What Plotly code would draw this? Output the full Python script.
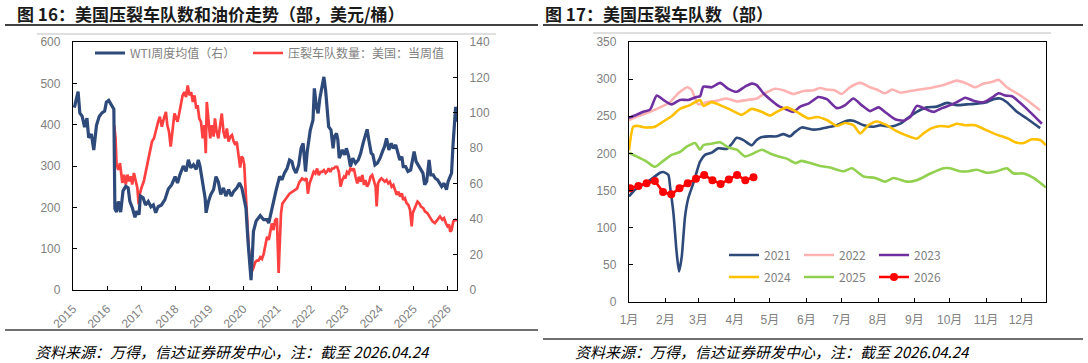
import plotly.graph_objects as go

W, H = 1088, 363

# ---------------- Left chart data (decimal year, value) ----------------
year_ticks = list(range(2015, 2027))

wti_year = [2015.04, 2015.08, 2015.15, 2015.2, 2015.27, 2015.34, 2015.41, 2015.46, 2015.54, 2015.61, 2015.69,
            2015.77, 2015.85, 2015.93, 2015.98, 2016.05, 2016.13, 2016.2, 2016.23, 2016.28, 2016.33, 2016.4,
            2016.47, 2016.55, 2016.62, 2016.67, 2016.75, 2016.82, 2016.87, 2016.94, 2016.98, 2017.06, 2017.13,
            2017.21, 2017.29, 2017.36, 2017.43, 2017.5, 2017.6, 2017.7, 2017.8, 2017.9, 2018.0, 2018.07,
            2018.14, 2018.24, 2018.32, 2018.39, 2018.46, 2018.54, 2018.62, 2018.68, 2018.73, 2018.81, 2018.88,
            2018.91, 2018.98, 2019.05, 2019.13, 2019.2, 2019.27, 2019.34, 2019.42, 2019.49, 2019.57, 2019.65,
            2019.72, 2019.81, 2019.89, 2019.96, 2020.01, 2020.08, 2020.14, 2020.19, 2020.23, 2020.27, 2020.3,
            2020.38, 2020.5, 2020.6, 2020.7, 2020.75, 2020.81, 2020.89, 2020.97, 2021.07, 2021.14, 2021.21,
            2021.29, 2021.36, 2021.43, 2021.48, 2021.55, 2021.63, 2021.7, 2021.76, 2021.83, 2021.88, 2021.97,
            2022.05, 2022.09, 2022.15, 2022.2, 2022.25, 2022.3, 2022.37, 2022.42, 2022.46, 2022.51, 2022.58,
            2022.64, 2022.68, 2022.74, 2022.78, 2022.82, 2022.86, 2022.91, 2022.98, 2023.03, 2023.1, 2023.15,
            2023.22, 2023.3, 2023.38, 2023.45, 2023.52, 2023.57, 2023.64, 2023.69, 2023.76, 2023.81, 2023.87,
            2023.94, 2024.02, 2024.09, 2024.15, 2024.21, 2024.28, 2024.35, 2024.41, 2024.48, 2024.53, 2024.6,
            2024.66, 2024.7, 2024.77, 2024.84, 2024.92, 2024.97, 2025.02, 2025.08, 2025.14, 2025.22, 2025.28,
            2025.33, 2025.39, 2025.46, 2025.51, 2025.58, 2025.64, 2025.71, 2025.77, 2025.83, 2025.9, 2025.97,
            2026.02, 2026.08, 2026.12, 2026.16, 2026.2, 2026.24, 2026.28]
wti_price = [103, 106, 112, 100, 98, 92, 97, 86, 88, 79, 93,
             98, 100, 101, 106, 107, 104, 102, 46, 44, 50, 44,
             56, 58.5, 57.6, 50, 46, 41, 44.5, 42.6, 53, 52, 48,
             50, 47, 48, 43.6, 47, 48, 51, 57, 59.5, 64, 60.4,
             65, 70, 67, 73.5, 69, 70.7, 68, 73.5, 70, 61, 52,
             43.6, 50, 54, 56.7, 64, 61, 54, 57.6, 53, 56.7, 53,
             55.7, 57.6, 60.4, 57.6, 52, 46.4, 27.7, 16.5, 5.6, 20, 33,
             39, 42, 39.7, 39.7, 37.8, 43.4, 49, 56.6, 64.1, 62.2, 66,
             68.7, 73.4, 72.5, 68.7, 66, 70.6, 80, 82.8, 66.9, 78.1, 90.3,
             96, 113.8, 103.4, 99.7, 108.1, 112.8, 120.3, 112.8, 101.6, 92.2, 90.3,
             80, 86.5, 88.4, 84.7, 74.4, 76.3, 79.1, 76.3, 80, 75.3, 69.7,
             74.4, 71.6, 73.4, 77.2, 82.8, 86.5, 90.7, 84.7, 77.2, 76.3, 70.6,
             71.6, 74.4, 78.1, 80.9, 85.6, 79.1, 82.8, 80, 81.9, 78.1, 73.4,
             75.3, 69.7, 69.7, 66.9, 67.8, 72.5, 78.1, 72.5, 70.6, 68.7, 66,
             59.4, 61.3, 73.4, 65, 65, 63.1, 62.2, 60.3, 58.4, 60.3, 56.6,
             61.3, 64.1, 66, 80.9, 92.2, 103.4, 95]

frac_year = [2016.21, 2016.25, 2016.28, 2016.33, 2016.38, 2016.42, 2016.45, 2016.5, 2016.55, 2016.6, 2016.65,
             2016.7, 2016.74, 2016.79, 2016.84, 2016.89, 2016.93, 2016.97, 2017.01, 2017.08, 2017.14, 2017.2,
             2017.26, 2017.32, 2017.38, 2017.44, 2017.5, 2017.55, 2017.61, 2017.67, 2017.73, 2017.77, 2017.82,
             2017.87, 2017.93, 2017.98, 2018.02, 2018.07, 2018.12, 2018.17, 2018.22, 2018.27, 2018.32, 2018.37,
             2018.42, 2018.47, 2018.52, 2018.57, 2018.62, 2018.66, 2018.71, 2018.76, 2018.81, 2018.86, 2018.9,
             2018.93, 2018.98, 2019.03, 2019.08, 2019.13, 2019.17, 2019.22, 2019.27, 2019.32, 2019.37, 2019.42,
             2019.47, 2019.52, 2019.57, 2019.62, 2019.67, 2019.72, 2019.77, 2019.81, 2019.86, 2019.91, 2019.95,
             2019.99, 2020.03, 2020.07, 2020.11, 2020.16, 2020.21, 2020.26, 2020.3, 2020.35, 2020.4, 2020.45,
             2020.5, 2020.55, 2020.6, 2020.65, 2020.7, 2020.75, 2020.79, 2020.84, 2020.89, 2020.94, 2020.99,
             2021.04, 2021.07, 2021.11, 2021.15, 2021.21, 2021.29, 2021.36, 2021.43, 2021.5, 2021.58, 2021.65,
             2021.73, 2021.8, 2021.86, 2021.9, 2021.95, 2022.02, 2022.07, 2022.12, 2022.17, 2022.22, 2022.27,
             2022.32, 2022.37, 2022.42, 2022.46, 2022.51, 2022.56, 2022.61, 2022.66, 2022.71, 2022.76, 2022.81,
             2022.86, 2022.91, 2022.96, 2023.0, 2023.05, 2023.1, 2023.15, 2023.2, 2023.25, 2023.3, 2023.35,
             2023.4, 2023.45, 2023.5, 2023.55, 2023.59, 2023.64, 2023.69, 2023.74, 2023.79, 2023.84, 2023.89,
             2023.92, 2023.96, 2024.01, 2024.06, 2024.11, 2024.16, 2024.21, 2024.26, 2024.31, 2024.36, 2024.41,
             2024.46, 2024.51, 2024.56, 2024.61, 2024.66, 2024.7, 2024.75, 2024.8, 2024.85, 2024.9, 2024.95,
             2024.98, 2025.02, 2025.07, 2025.12, 2025.17, 2025.22, 2025.29, 2025.34, 2025.41, 2025.48, 2025.56,
             2025.63, 2025.71, 2025.78, 2025.85, 2025.9, 2025.95, 2026.0, 2026.05, 2026.08, 2026.12, 2026.17,
             2026.23, 2026.28]
frac_count = [399, 367, 303, 291, 307, 279, 259, 279, 255, 279, 263,
              275, 255, 283, 263, 247, 207, 235, 247, 263, 287, 311,
              335, 359, 367, 391, 407, 419, 395, 415, 431, 399, 383,
              347, 391, 427, 419, 407, 427, 451, 471, 479, 467, 495,
              471, 479, 455, 471, 439, 447, 415, 407, 367, 399, 331,
              455, 407, 367, 399, 371, 415, 383, 367, 403, 427, 383,
              367, 391, 359, 371, 375, 359, 351, 359, 327, 296, 323,
              319, 303, 247, 167, 103, 67, 46, 54, 67, 71, 71,
              79, 75, 87, 107, 129, 121, 141, 161, 145, 169, 173,
              41, 105, 185, 209, 217, 225, 233, 237, 241, 245, 261,
              270, 266, 270, 233, 258, 274, 286, 282, 294, 278, 286,
              286, 290, 283, 286, 294, 286, 294, 294, 298, 298, 286,
              250, 266, 274, 270, 286, 282, 294, 290, 294, 274, 258,
              274, 262, 278, 254, 266, 250, 258, 274, 278, 266, 250,
              202, 258, 266, 270, 266, 262, 266, 258, 262, 250, 254,
              242, 230, 238, 226, 234, 218, 222, 210, 206, 194, 154,
              186, 194, 206, 214, 210, 202, 198, 190, 186, 178, 166,
              162, 170, 178, 170, 174, 162, 154, 158, 141, 145, 166,
              170, 168]

# ---------------- Right chart data (day of year, value) ----------------
month_starts = [0, 31, 59, 90, 120, 151, 181, 212, 243, 273, 304, 334]
month_labels = ["1月", "2月", "3月", "4月", "5月", "6月", "7月", "8月", "9月", "10月", "11月", "12月"]

d2021 = [0, 5.1, 10.8, 17.9, 26.4, 29.2, 33.5, 35, 37.8, 40.6, 42.6, 44.9, 47.7, 50.5, 54.8, 57.6, 60.5, 64.7,
         70.4, 76, 83.2, 87.5, 91.7, 97.4, 104.5, 108.7, 113, 118.7, 125.8, 131.5, 137.1, 141.4, 147, 151.3,
         157, 162.7, 168.4, 176.9, 185.4, 191, 199.8, 208.2, 213.9, 222.3, 230.9, 236.8, 245, 253.5, 262,
         270.6, 279, 287.6, 296, 304.7, 310.3, 316, 321.7, 330.2, 338.7, 350]
v2021 = [142, 151, 157, 164, 174, 175, 171, 155, 120, 66, 41, 61, 115, 140, 160, 175, 189, 198,
         201, 207, 206, 213, 221, 218, 211, 218, 222, 223, 223, 226, 223, 229, 235, 234,
         232, 233, 235, 238, 244, 244, 238, 236, 238, 236, 240, 247, 256, 262, 263,
         268, 265, 266, 267, 269, 273, 274, 269, 256, 247, 234]

d2022 = [0, 9.4, 17.9, 26.4, 34.9, 42, 50, 53.4, 59, 66.2, 74.7, 83.2, 91.7, 100.2, 108.7, 115.8, 124.4, 131.5,
         140, 148.5, 157, 162.7, 168.4, 175, 181, 188, 196.8, 205.3, 211, 218, 224, 230.9, 239.4, 247.9, 259.3,
         267.8, 279, 287.6, 294.7, 301.8, 308.9, 314.6, 321.7, 330.2, 338.7, 350]
v2022 = [245, 251, 256, 262, 269, 281, 289, 285, 266, 269, 271, 274, 270, 272, 274, 281, 287, 285,
         280, 284, 285, 288, 286, 285, 280, 289, 295, 289, 286, 281, 286, 282, 284, 286, 289,
         292, 298, 294, 289, 294, 296, 299, 289, 281, 272, 258]

d2023 = [0, 6.5, 12.2, 17.9, 23.6, 29.2, 36.3, 43.4, 50.5, 57.6, 60.5, 63.3, 70.4, 77.5, 84.6, 91.7, 98.8, 104.5,
         108.7, 114.4, 120, 127.2, 134.3, 140, 145.7, 152.8, 161.3, 168.4, 176.9, 184, 191, 198, 205.3, 212.4,
         219.4, 226.5, 233.6, 239.4, 245, 252.2, 259.3, 266.4, 273.5, 279, 286.2, 293.3, 301.8, 308.9, 314.6,
         320.3, 326, 330.2, 338.7, 351.5]
v2023 = [248, 252, 256, 259, 278, 272, 266, 272, 272, 276, 277, 290, 289, 295, 287, 283, 290, 294,
         292, 281, 273, 264, 259, 256, 263, 267, 276, 273, 261, 265, 274, 265, 257, 262,
         254, 246, 244, 249, 264, 260, 256, 261, 265, 269, 275, 271, 269, 275, 281,
         278, 277, 272, 260, 240]

d2024 = [0, 3.7, 8, 13.6, 22.1, 29.2, 36.3, 43.4, 52, 60.5, 63.3, 70.4, 79, 87.5, 96, 104.5, 113, 120, 125.8,
         134.3, 142.8, 152.8, 159.9, 168.4, 176.9, 184, 191, 196.8, 203.9, 211, 219.4, 226.5, 235, 245, 250.7,
         257.8, 264.9, 272, 279, 286.2, 294.7, 303.2, 310.3, 317.4, 323, 328.8, 335.9, 343, 350, 355]
v2024 = [204, 236, 237, 235, 236, 243, 250, 260, 265, 272, 264, 269, 264, 258, 252, 260, 256, 251, 256,
         262, 256, 247, 249, 245, 237, 241, 238, 227, 238, 243, 238, 231, 225, 220, 227,
         234, 237, 236, 240, 238, 238, 232, 227, 223, 220, 215, 214, 219, 218, 211]

d2025 = [0, 6.5, 15, 22.1, 29.2, 36.3, 43.4, 49.1, 56.2, 60.5, 63.3, 70.4, 77.5, 84.6, 91.7, 98.8, 105.9, 113,
         120, 127.2, 134.3, 141.4, 147, 154.2, 162.7, 171.2, 182.6, 189.7, 199.8, 209.6, 218.1, 225.2, 236.8,
         245, 256.7, 267.8, 273.5, 281.6, 288.8, 296, 304.7, 313.2, 321.7, 327.4, 335.9, 344.4, 355]
v2025 = [201, 196, 189, 182, 190, 198, 202, 209, 214, 205, 211, 213, 215, 208, 205, 196, 200, 205,
         200, 196, 193, 187, 190, 187, 183, 181, 176, 180, 169, 167, 162, 167, 162,
         164, 173, 180, 180, 176, 176, 178, 174, 176, 180, 173, 173, 167, 154]

d2026 = [1, 8, 15, 22, 29, 36, 43, 50, 57, 64, 71, 78, 85, 92, 99, 106]
v2026 = [153, 156, 160, 163, 148, 145, 153, 160, 166, 171, 164, 159, 165, 171, 164, 168]

# ---------------- Styling ----------------
GRAY = "#7f7f7f"
TICKFONT = dict(family="Liberation Sans, Noto Sans CJK SC", size=12, color=GRAY)
LEGFONT = dict(family="Noto Sans CJK SC, Liberation Sans", size=12, color=GRAY)

def px(x):
    return x / W

def py(y):
    return 1 - y / H

fig = go.Figure()

# Left chart
fig.add_trace(go.Scatter(x=frac_year, y=frac_count, name="压裂车队数量：美国：当周值", mode="lines",
                         line=dict(color="#FF4040", width=2.7), xaxis="x", yaxis="y",
                         legend="legend", legendrank=2, legendwidth=175))
fig.add_trace(go.Scatter(x=wti_year, y=wti_price, name="WTI周度均值（右）", mode="lines",
                         line=dict(color="#2E4A7A", width=3.2), xaxis="x", yaxis="y2",
                         legend="legend", legendrank=1, legendwidth=113))

# Right chart
series = [
    ("2021", d2021, v2021, "#2E4A7A", "legend2"),
    ("2022", d2022, v2022, "#FFB2B2", "legend2"),
    ("2023", d2023, v2023, "#7030A0", "legend2"),
    ("2024", d2024, v2024, "#FFC000", "legend3"),
    ("2025", d2025, v2025, "#92D050", "legend3"),
]
for name, d, v, c, lg in series:
    fig.add_trace(go.Scatter(x=d, y=v, name=name, mode="lines",
                             line=dict(color=c, width=2.6, shape="spline", smoothing=0.6),
                             xaxis="x2", yaxis="y3", legend=lg))
fig.add_trace(go.Scatter(x=d2026, y=v2026, name="2026", mode="lines+markers",
                         line=dict(color="#FF0000", width=2.6),
                         marker=dict(color="#FF0000", size=8),
                         xaxis="x2", yaxis="y3", legend="legend3"))

axis_common = dict(showgrid=False, zeroline=False, showline=True, linecolor="#000000", linewidth=1.3,
                   ticks="inside", ticklen=4, tickwidth=1, tickcolor="#000000", tickfont=TICKFONT,
                   automargin=False)

fig.update_layout(
    width=W, height=H,
    margin=dict(l=0, r=0, t=0, b=0, autoexpand=False),
    paper_bgcolor="white", plot_bgcolor="white",
    font=dict(family="Noto Sans CJK SC, Liberation Sans"),
    xaxis=dict(domain=[px(73), px(457)], range=[2015, 2026.28], tickvals=year_ticks,
               ticktext=[str(y) for y in year_ticks], tickangle=-45, mirror=True, anchor="y",
               ticklabelstandoff=6, **axis_common),
    yaxis=dict(domain=[py(290), py(42)], range=[0, 600], dtick=100, anchor="x",
               ticklabelstandoff=9, **axis_common),
    yaxis2=dict(domain=[py(290), py(42)], range=[0, 140], dtick=20, overlaying="y", side="right",
                anchor="x", ticklabelstandoff=9, **axis_common),
    xaxis2=dict(domain=[px(629), px(1046)], range=[0, 355], tickvals=month_starts, ticktext=month_labels,
                mirror=True, anchor="y3", ticklabelstandoff=6, **axis_common),
    yaxis3=dict(domain=[py(302), py(42)], range=[0, 350], dtick=50, mirror=True, anchor="x2",
                ticklabelstandoff=9, **axis_common),
    legend=dict(orientation="h", x=px(90), y=py(53), xanchor="left", yanchor="middle",
                bgcolor="rgba(0,0,0,0)", font=LEGFONT, entrywidthmode="pixels",
                traceorder="normal"),
    legend2=dict(orientation="h", x=px(724), y=py(255), xanchor="left", yanchor="middle",
                 bgcolor="rgba(0,0,0,0)", font=LEGFONT, entrywidth=30, entrywidthmode="pixels"),
    legend3=dict(orientation="h", x=px(724), y=py(277), xanchor="left", yanchor="middle",
                 bgcolor="rgba(0,0,0,0)", font=LEGFONT, entrywidth=30, entrywidthmode="pixels"),
    showlegend=True,
)

TITLE_FONT = dict(family="Noto Sans CJK SC", size=17, color="#1a1a1a")
FOOT_FONT = dict(family="Noto Sans CJK SC, Liberation Sans", size=15, color="#000000")

annotations = [
    dict(text="<b>图 16：美国压裂车队数和油价走势（部，美元/桶）</b>", x=px(15), y=py(14)),
    dict(text="<b>图 17：美国压裂车队数（部）</b>", x=px(543), y=py(14)),
]
for a in annotations:
    a.update(xref="paper", yref="paper", xanchor="left", yanchor="middle", showarrow=False, font=TITLE_FONT)
foot = "<i>资料来源：万得，信达证券研发中心，注：截至 2026.04.24</i>"
annotations += [
    dict(text=foot, x=px(33), y=py(351), xref="paper", yref="paper", xanchor="left", yanchor="middle",
         showarrow=False, font=FOOT_FONT),
    dict(text=foot, x=px(573), y=py(351), xref="paper", yref="paper", xanchor="left", yanchor="middle",
         showarrow=False, font=FOOT_FONT),
]
fig.update_layout(annotations=annotations)

shapes = [
    dict(type="line", x0=px(5), x1=px(538), y0=py(25), y1=py(25), line=dict(color="#404040", width=2)),
    dict(type="line", x0=px(543), x1=px(1083), y0=py(25), y1=py(25), line=dict(color="#404040", width=2)),
    dict(type="line", x0=px(37), x1=px(496), y0=py(34), y1=py(34), line=dict(color="#bfbfbf", width=1)),
    dict(type="line", x0=px(593), x1=px(1051), y0=py(33), y1=py(33), line=dict(color="#bfbfbf", width=1)),
    dict(type="line", x0=px(5), x1=px(538), y0=py(330), y1=py(330), line=dict(color="#404040", width=1.5)),
    dict(type="line", x0=px(543), x1=px(1083), y0=py(339), y1=py(339), line=dict(color="#404040", width=1.5)),
]
for s in shapes:
    s.update(xref="paper", yref="paper")
fig.update_layout(shapes=shapes)

fig.write_html("out.html")
